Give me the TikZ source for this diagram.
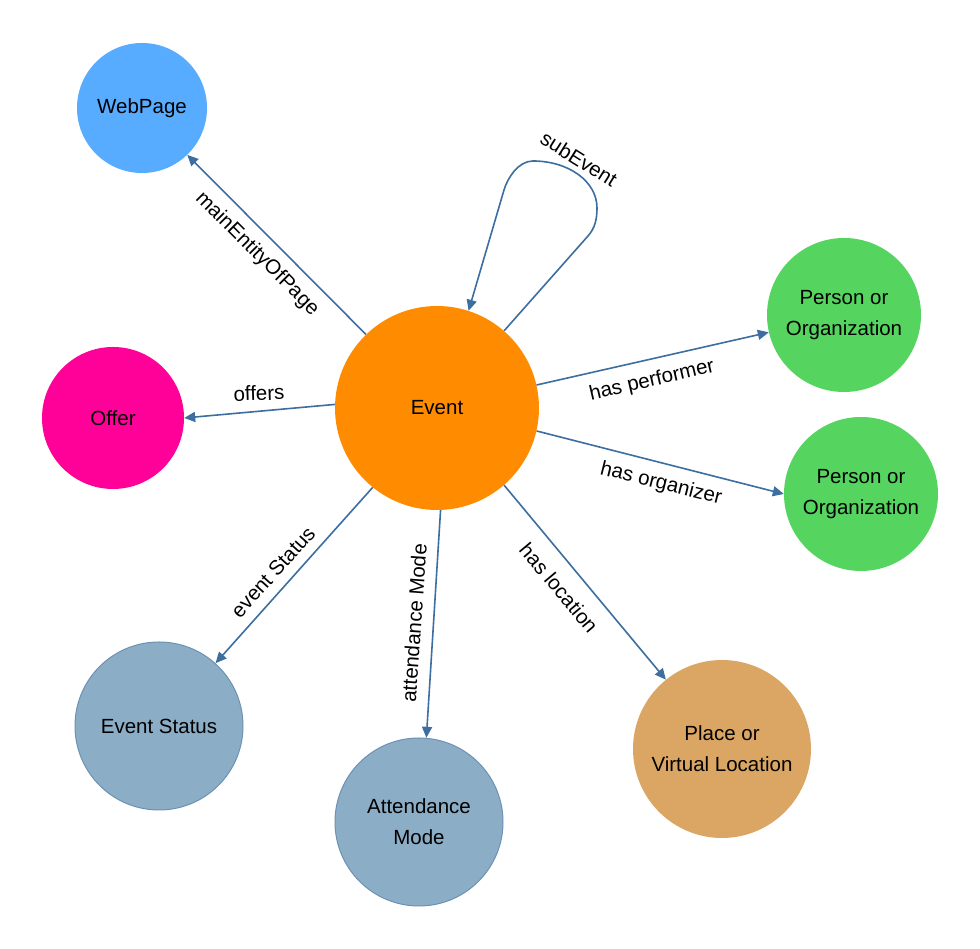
\documentclass[tikz,border=0pt]{standalone}
\usepackage{fontspec}
\setmainfont{Liberation Sans}
\usetikzlibrary{arrows.meta}
\definecolor{evorange}{HTML}{FF8C00}
\definecolor{webblue}{HTML}{58ACFF}
\definecolor{offerpink}{HTML}{FF0099}
\definecolor{persgreen}{HTML}{55D45F}
\definecolor{statblue}{HTML}{8CADC6}
\definecolor{statborder}{HTML}{6C91B3}
\definecolor{placetan}{HTML}{DBA663}
\definecolor{edgeblue}{RGB}{60,110,160}
\begin{document}
\begin{tikzpicture}[x=1pt,y=1pt,
  ent/.style={circle, inner sep=0pt, align=center, font=\fontsize{20.5}{31}\selectfont, text=black},
  bordered/.style={draw=statborder, line width=1pt},
  lbl/.style={inner sep=0pt, font=\fontsize{20.5}{24}\selectfont, text=black},
  edge/.style={draw=edgeblue, line width=1.6pt, -{Triangle[length=11pt,width=10pt]}}]
\useasboundingbox (0,0) rectangle (980,949);
\fill[white] (0,0) rectangle (980,949);

% entities
\node[ent, minimum size=204pt, fill=evorange] (ev) at (437,541) {Event};
\node[ent, minimum size=130pt, fill=webblue] (web) at (142,841) {WebPage};
\node[ent, minimum size=142pt, fill=offerpink] (offer) at (113,531) {Offer};
\node[ent, minimum size=154pt, fill=persgreen] (p1) at (844,634) {Person or\\Organization};
\node[ent, minimum size=154pt, fill=persgreen] (p2) at (861,455) {Person or\\Organization};
\node[ent, bordered, minimum size=168pt, fill=statblue] (es) at (159,223) {Event Status};
\node[ent, bordered, minimum size=168pt, fill=statblue] (am) at (419,127) {Attendance\\Mode};
\node[ent, minimum size=178pt, fill=placetan] (pl) at (722,200) {Place or\\Virtual Location};

% connectors
\draw[edge] (ev.134.6) -- (web.-46.8);
\draw[edge] (ev.178.3) -- (offer.0.8);
\draw[edge] (ev.13.5) -- (p1.193.9);
\draw[edge] (ev.-13.5) -- (p2.180);
\draw[edge] (ev.231.3) -- (es.48.3);
\draw[edge] (ev.-88) -- (am.85);
\draw[edge] (ev.-49.8) -- (pl.129.3);
\coordinate (loopA) at (588,713);
\coordinate (loopB) at (597,741);
\coordinate (loopC) at (533,788);
\coordinate (loopD) at (504,759);
\draw[edge] (ev.49) -- (loopA)
  .. controls (594.6,720.5) and (597,729) .. (loopB)
  .. controls (597,768) and (568,788) .. (loopC)
  .. controls (518,788) and (507.4,770.5) .. (loopD)
  -- (ev.72.4);

% labels
\node[lbl, rotate=-45] (lmain) at (257,695) {mainEntityOfPage};
\node[lbl, rotate=2] (loffers) at (259,556) {offers};
\node[lbl, rotate=13] (lperf) at (652,568) {has performer};
\node[lbl, rotate=-14] (lorg) at (661,465) {has organizer};
\node[lbl, rotate=48] (lstat) at (273,377) {event Status};
\node[lbl, rotate=86] (lmode) at (414,326) {attendance Mode};
\node[lbl, rotate=-50] (lloc) at (559,361) {has location};
\node[lbl, rotate=-32] (lsub) at (579,790) {subEvent};
\end{tikzpicture}
\end{document}
